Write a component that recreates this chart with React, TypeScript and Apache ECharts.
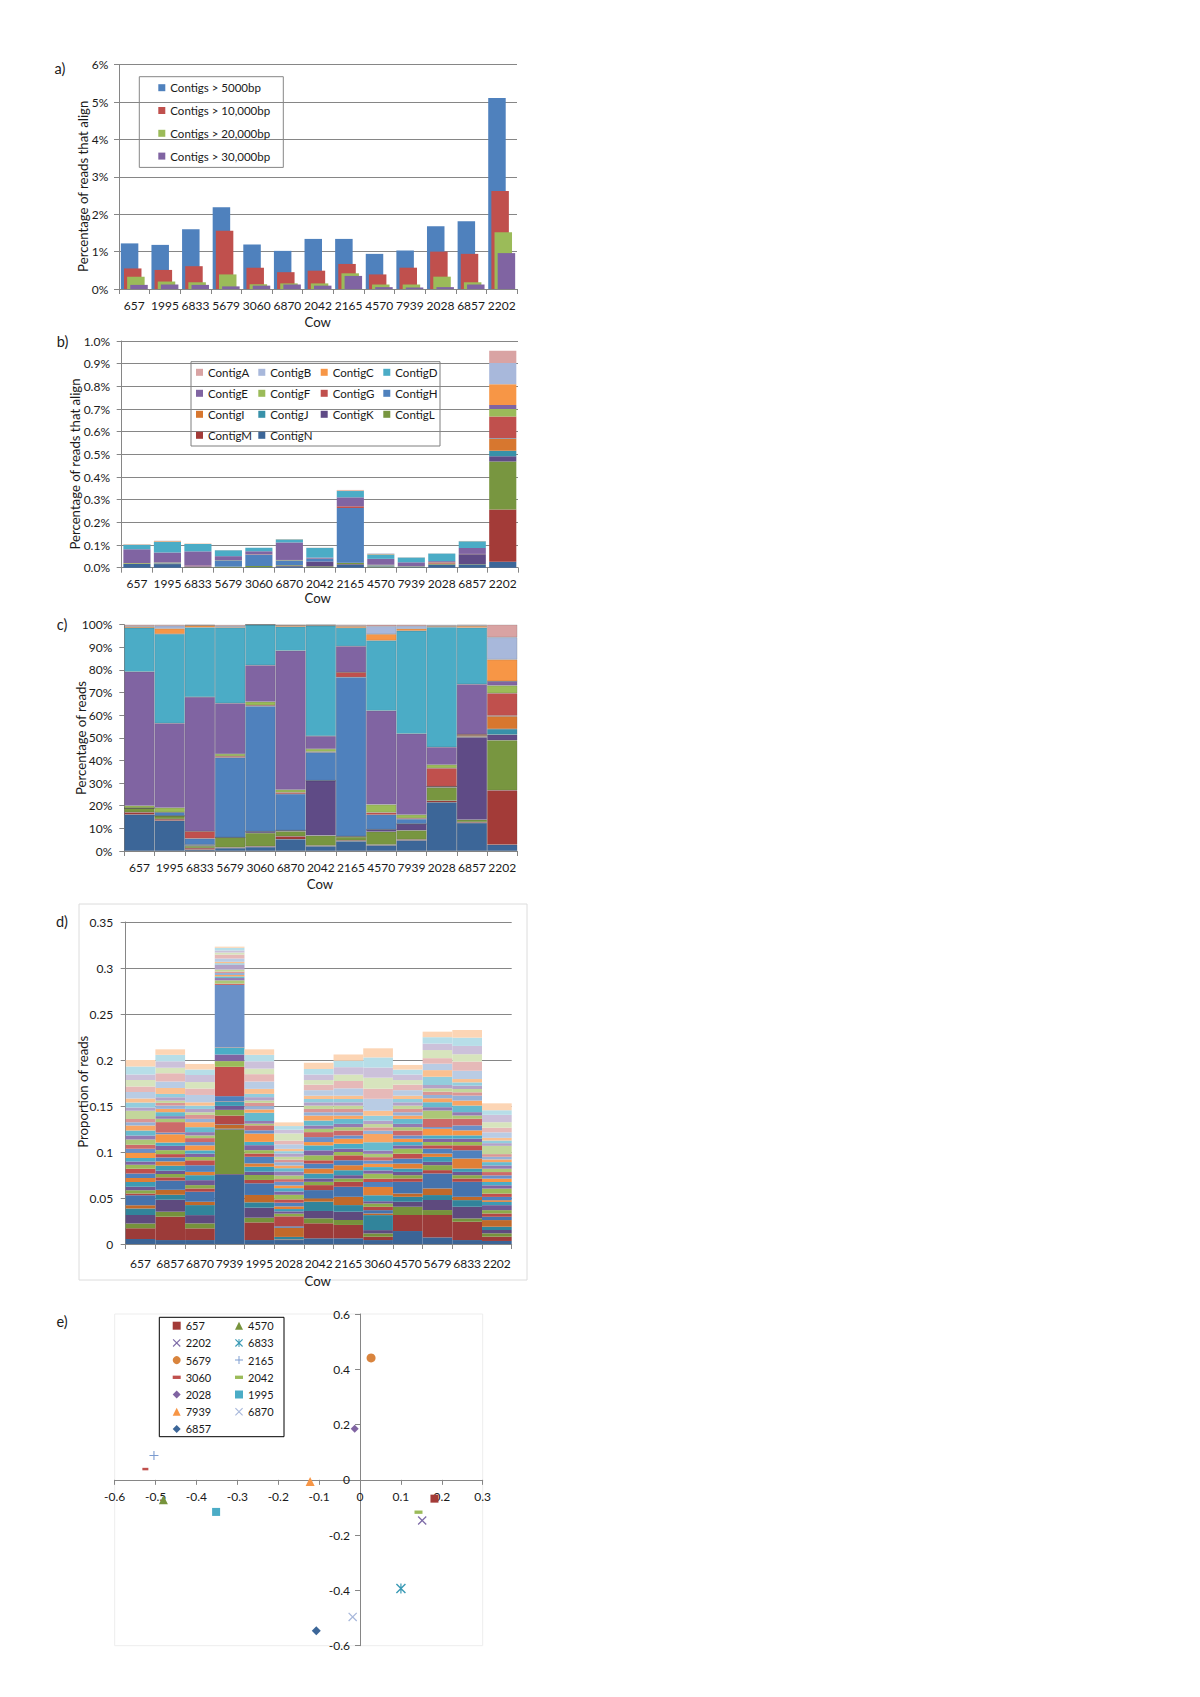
import React, { useEffect, useRef } from 'react';
import * as echarts from 'echarts';

// ---------- categories ----------
const cowsABC = ['657', '1995', '6833', '5679', '3060', '6870', '2042', '2165', '4570', '7939', '2028', '6857', '2202'];
const cowsD = ['657', '6857', '6870', '7939', '1995', '2028', '2042', '2165', '3060', '4570', '5679', '6833', '2202'];

// ---------- panel a (% of reads that align) ----------
const aNames = ['Contigs > 5000bp', 'Contigs > 10,000bp', 'Contigs > 20,000bp', 'Contigs > 30,000bp'];
const contigs5000 = [1.22, 1.18, 1.60, 2.19, 1.19, 1.02, 1.34, 1.34, 0.94, 1.03, 1.68, 1.81, 5.11];
const contigs10000 = [0.55, 0.51, 0.61, 1.56, 0.57, 0.45, 0.49, 0.67, 0.39, 0.57, 1.00, 0.94, 2.62];
const contigs20000 = [0.33, 0.20, 0.18, 0.39, 0.13, 0.15, 0.15, 0.42, 0.12, 0.12, 0.33, 0.18, 1.52];
const contigs30000 = [0.11, 0.12, 0.11, 0.07, 0.09, 0.12, 0.09, 0.35, 0.05, 0.04, 0.05, 0.12, 0.96];

// ---------- panel b totals (% of reads) ----------
const bTotals = [0.103, 0.119, 0.106, 0.078, 0.088, 0.126, 0.088, 0.343, 0.063, 0.046, 0.063, 0.118, 0.957];

// ---------- panel c composition (% of reads per contig) ----------
const contigN = [16.1, 13.4, 0.6, 1.3, 1.8, 5.2, 2.1, 4.3, 2.5, 4.7, 21.5, 12.4, 2.8];
const contigM = [1.0, 0.7, 0.7, 0.3, 0.3, 1.3, 0.3, 0.4, 0.3, 0.4, 0.7, 0.4, 24.0];
const contigL = [1.9, 1.5, 0.9, 4.4, 5.9, 2.2, 4.4, 1.5, 5.7, 4.0, 5.9, 1.0, 22.1];
const contigK = [0, 0, 0.3, 0, 0.6, 0.4, 24.3, 0.3, 1.0, 2.9, 0.4, 36.5, 2.5];
const contigJ = [0, 0, 0.3, 0, 0, 0, 0, 0, 0, 0, 0, 0.3, 2.5];
const contigI = [0, 0, 0, 0, 0, 0, 0, 0, 0, 0, 0, 0.5, 5.6];
const contigH = [0, 1.5, 2.7, 35.3, 55.4, 16.1, 12.5, 70.3, 6.5, 2.1, 0, 0, 0.3];
const contigG = [0, 0, 3.2, 0.6, 0.4, 0.7, 0.3, 2.2, 1.0, 0.4, 8.1, 0.5, 9.9];
const contigF = [1.0, 2.0, 0, 1.0, 1.5, 1.2, 1.2, 0, 3.5, 1.5, 1.5, 0, 3.4];
const contigE = [59.2, 37.3, 59.3, 22.4, 16.2, 61.4, 5.7, 11.5, 41.5, 35.8, 7.8, 22.1, 1.9];
const contigD = [19.4, 39.5, 30.8, 33.4, 17.9, 10.6, 48.7, 8.1, 31.0, 45.5, 53.0, 25.0, 0];
const contigC = [0.5, 2.4, 0.9, 0.3, 0, 0.6, 0.3, 0.7, 2.8, 0.9, 0.4, 0.7, 9.6];
const contigB = [0.3, 1.2, 0, 0.4, 0, 0, 0, 0.3, 3.5, 1.2, 0.3, 0.3, 9.8];
const contigA = [0.6, 0.5, 0.3, 0.5, 0, 0.3, 0.2, 0.4, 0.7, 0.6, 0.3, 0.3, 5.6];

// ---------- panel d (proportion of reads, stacked layers bottom->top) ----------
const d657 = [0.0054, 0.0116, 0.0054, 0.009, 0.0072, 0.0036, 0.0109, 0.0018, 0.0036, 0.0036, 0.0054, 0.0043, 0.0047, 0.0054, 0.0043, 0.0036, 0.0036, 0.0058, 0.0043, 0.0043, 0.0058, 0.0043, 0.0054, 0.0054, 0.0036, 0.0036, 0.009, 0.0036, 0.0054, 0.0043, 0.007, 0.006, 0.007, 0.006, 0.0088, 0.007];
const d6857 = [0.0043, 0.0254, 0.0054, 0.013, 0.0054, 0.0054, 0.01, 0.0036, 0.0036, 0.0036, 0.0054, 0.0047, 0.0043, 0.0036, 0.0043, 0.0047, 0.0036, 0.009, 0.0018, 0.0114, 0.0036, 0.0029, 0.0043, 0.0036, 0.0036, 0.0029, 0.0025, 0.0036, 0.0036, 0.0065, 0.007, 0.009, 0.006, 0.007, 0.007, 0.006];
const d6870 = [0.0043, 0.0127, 0.0054, 0.009, 0.0109, 0.0036, 0.0109, 0.0036, 0.0036, 0.0054, 0.0054, 0.0036, 0.0072, 0.0054, 0.0036, 0.0036, 0.0036, 0.0054, 0.0036, 0.0043, 0.0029, 0.0036, 0.0054, 0.0054, 0.0036, 0.0043, 0.0029, 0.0036, 0.0036, 0.0036, 0.008, 0.007, 0.007, 0.0077, 0.006, 0.006];
const d7939 = [0.0757, 0.0005, 0.0482, 0.0005, 0.0005, 0.0043, 0.0005, 0.0094, 0.0062, 0.0043, 0.0043, 0.0005, 0.0058, 0.0319, 0.0062, 0.0072, 0.0072, 0.0005, 0.0678, 0.0015, 0.0036, 0.0025, 0.0018, 0.0015, 0.0022, 0.0015, 0.0022, 0.0054, 0.0015, 0.0015, 0.0036, 0.0043, 0.0022, 0.0022, 0.0029, 0.0013];
const d1995 = [0.0043, 0.0192, 0.0051, 0.0109, 0.0058, 0.008, 0.0127, 0.0036, 0.0054, 0.0036, 0.0054, 0.0036, 0.0072, 0.0036, 0.0036, 0.0054, 0.0036, 0.009, 0.0036, 0.0054, 0.0018, 0.0029, 0.009, 0.0036, 0.0036, 0.0036, 0.0025, 0.0036, 0.0036, 0.0054, 0.008, 0.008, 0.006, 0.008, 0.007, 0.006];
const d2028 = [0.0043, 0.0003, 0.0003, 0.0003, 0.0025, 0.01, 0.0015, 0.0109, 0.0029, 0.0025, 0.0025, 0.0029, 0.004, 0.0036, 0.005, 0.0036, 0.0036, 0.0029, 0.004, 0.0029, 0.004, 0.0043, 0.0036, 0.0029, 0.0036, 0.0029, 0.003, 0.0036, 0.0025, 0.0025, 0.005, 0.004, 0.0078, 0.004, 0.004, 0.004];
const d2042 = [0.0062, 0.0163, 0.0054, 0.008, 0.0101, 0.0036, 0.009, 0.0054, 0.0036, 0.0036, 0.0054, 0.0054, 0.0054, 0.0036, 0.0054, 0.0054, 0.0054, 0.0036, 0.0054, 0.0054, 0.0036, 0.0036, 0.0054, 0.0054, 0.0036, 0.0036, 0.0036, 0.0036, 0.0036, 0.0036, 0.006, 0.006, 0.005, 0.006, 0.006, 0.0068];
const d2165 = [0.0062, 0.0145, 0.0054, 0.009, 0.0072, 0.009, 0.0109, 0.0054, 0.0036, 0.0036, 0.0054, 0.0054, 0.0054, 0.0054, 0.0036, 0.0036, 0.0054, 0.0054, 0.0036, 0.0054, 0.0036, 0.0036, 0.0054, 0.0036, 0.0036, 0.0036, 0.0036, 0.0036, 0.0036, 0.0036, 0.008, 0.008, 0.007, 0.008, 0.007, 0.0068];
const d3060 = [0.0043, 0.0036, 0.0036, 0.0036, 0.0163, 0.0018, 0.0036, 0.0036, 0.0036, 0.0025, 0.0065, 0.009, 0.0054, 0.0036, 0.0054, 0.0036, 0.0036, 0.0036, 0.0036, 0.0036, 0.0036, 0.0036, 0.009, 0.009, 0.0036, 0.0036, 0.0036, 0.0036, 0.0054, 0.0054, 0.013, 0.011, 0.012, 0.011, 0.011, 0.0099];
const d4570 = [0.0141, 0.0174, 0.009, 0.0054, 0.0054, 0.0036, 0.0127, 0.0036, 0.0036, 0.0036, 0.0036, 0.0054, 0.0054, 0.0054, 0.0054, 0.0036, 0.0036, 0.0036, 0.0036, 0.0054, 0.0036, 0.0036, 0.0054, 0.0036, 0.0036, 0.0036, 0.0036, 0.0036, 0.0036, 0.0036, 0.006, 0.006, 0.005, 0.006, 0.0054, 0.005];
const d5679 = [0.0072, 0.0243, 0.0054, 0.0109, 0.0054, 0.0072, 0.0163, 0.0036, 0.0054, 0.0036, 0.0054, 0.0036, 0.0054, 0.0036, 0.0036, 0.0036, 0.0036, 0.0072, 0.0018, 0.009, 0.009, 0.0036, 0.0054, 0.0043, 0.0036, 0.0036, 0.0036, 0.0036, 0.009, 0.0072, 0.007, 0.006, 0.0088, 0.007, 0.007, 0.006];
const d6833 = [0.0043, 0.0199, 0.0036, 0.0127, 0.0072, 0.0036, 0.0163, 0.0036, 0.0036, 0.0036, 0.0036, 0.0109, 0.009, 0.0054, 0.0036, 0.0036, 0.0036, 0.0054, 0.0054, 0.0072, 0.0036, 0.0036, 0.0072, 0.0054, 0.0054, 0.0036, 0.0036, 0.0036, 0.0036, 0.0036, 0.009, 0.01, 0.008, 0.009, 0.009, 0.0083];
const d2202 = [0.0033, 0.0047, 0.0036, 0.0036, 0.0036, 0.0072, 0.0036, 0.0036, 0.0036, 0.0054, 0.0036, 0.0018, 0.0036, 0.0036, 0.0054, 0.0036, 0.0036, 0.0036, 0.0036, 0.0036, 0.0036, 0.0036, 0.0036, 0.0029, 0.0029, 0.0029, 0.009, 0.0029, 0.0029, 0.0029, 0.006, 0.005, 0.006, 0.008, 0.005, 0.0075];

// ---------- panel e (ordination) ----------
const eCows = ['657', '4570', '2202', '6833', '5679', '2165', '3060', '2042', '2028', '1995', '7939', '6870', '6857'];
const eX = [0.182, -0.481, 0.152, 0.100, 0.027, -0.504, -0.525, 0.143, -0.013, -0.352, -0.122, -0.018, -0.107];
const eY = [-0.068, -0.072, -0.147, -0.393, 0.441, 0.088, 0.039, -0.117, 0.185, -0.116, -0.006, -0.496, -0.546];

// ---------- styles ----------
const FONT = 'Lato, "Noto Sans", sans-serif';
const AXIS = '#868686';
const TXT = '#1a1a1a';
const TICK_FS = 12;
const TITLE_FS = 13.2;
const aColors = ['#4F81BD', '#C0504D', '#9BBB59', '#8064A2'];
const contigNames = ['ContigN', 'ContigM', 'ContigL', 'ContigK', 'ContigJ', 'ContigI', 'ContigH', 'ContigG', 'ContigF', 'ContigE', 'ContigD', 'ContigC', 'ContigB', 'ContigA'];
const contigColors = ['#3C6698', '#A33B38', '#789640', '#5F4B86', '#3891A9', '#D7772F', '#4F81BD', '#C0504D', '#9BBB59', '#8064A2', '#4BACC6', '#F79646', '#A8B8DB', '#D9A3A3'];
const dPalette = [
  '#3B6496', '#9C3B39', '#76923C', '#5E4A7E', '#31849B', '#C0692A',
  '#4573AD', '#B24846', '#8AAA4B', '#705894', '#3E9BB4', '#E07F36',
  '#4F81BD', '#C0504D', '#9BBB59', '#8064A2', '#4BACC6', '#F79646',
  '#6A90C8', '#CC6B69', '#ACC777', '#937BB2', '#67BACE', '#F8A564',
  '#95B1D6', '#D99694', '#C3D69B', '#B3A2C7', '#93CDDD', '#FAC090',
  '#B9CCE4', '#E6B9B8', '#D7E4BD', '#CCC1DA', '#B7DEE8', '#FCD5B5',
];
const X_PATH = 'path://M0,1 L1,0 L10,9 L9,10 Z M9,0 L10,1 L1,10 L0,9 Z';
const PLUS_PATH = 'path://M4.4,0 L5.6,0 L5.6,10 L4.4,10 Z M0,4.4 L10,4.4 L10,5.6 L0,5.6 Z';
const STAR_PATH = 'path://M0,1 L1,0 L10,9 L9,10 Z M9,0 L10,1 L1,10 L0,9 Z M4.4,0 L5.6,0 L5.6,10 L4.4,10 Z';
const DASH_PATH = 'path://M0,0 L12,0 L12,5 L0,5 Z';
const eStyle: Record<string, { symbol: string; size: number; color: string }> = {
  '657': { symbol: 'rect', size: 8, color: '#A33B38' },
  '4570': { symbol: 'triangle', size: 9, color: '#77933C' },
  '2202': { symbol: X_PATH, size: 9, color: '#7E6CA8' },
  '6833': { symbol: STAR_PATH, size: 10, color: '#3A9AB5' },
  '5679': { symbol: 'circle', size: 9, color: '#D9843D' },
  '2165': { symbol: PLUS_PATH, size: 9, color: '#7B9BD0' },
  '3060': { symbol: DASH_PATH, size: 6, color: '#C0504D' },
  '2042': { symbol: DASH_PATH, size: 8, color: '#9BBB59' },
  '2028': { symbol: 'diamond', size: 8, color: '#8064A2' },
  '1995': { symbol: 'rect', size: 8, color: '#4BACC6' },
  '7939': { symbol: 'triangle', size: 9, color: '#F79646' },
  '6870': { symbol: X_PATH, size: 9, color: '#A8B8DB' },
  '6857': { symbol: 'diamond', size: 9, color: '#3C6698' },
};

// panel e plot box and axis ranges
const E_LEFT = 114.7, E_TOP = 1314, E_W = 368, E_H = 331.7;
const E_XMIN = -0.6, E_XMAX = 0.3, E_YMIN = -0.6, E_YMAX = 0.6;

function catAxis(gridIndex: number, data: string[], margin: number) {
  return {
    type: 'category', gridIndex, data,
    axisLine: { show: true, lineStyle: { color: AXIS, width: 1 } },
    axisTick: { show: true, length: 5, lineStyle: { color: AXIS } },
    axisLabel: { interval: 0, color: TXT, fontFamily: FONT, fontSize: TICK_FS, margin },
    splitLine: { show: false },
  };
}
function valAxis(gridIndex: number, min: number, max: number, interval: number, formatter: any, margin: number, grid: boolean) {
  return {
    type: 'value', gridIndex, min, max, interval,
    axisLine: { show: true, lineStyle: { color: AXIS, width: 1 } },
    axisTick: { show: true, length: 5, lineStyle: { color: AXIS } },
    axisLabel: { color: TXT, fontFamily: FONT, fontSize: TICK_FS, margin, formatter },
    splitLine: { show: grid, lineStyle: { color: AXIS, width: 1 } },
  };
}
function txt(text: string, x: number, y: number, size: number, rotate = false) {
  return {
    type: 'text', x, y, rotation: rotate ? Math.PI / 2 : 0,
    style: { text, fill: TXT, fontFamily: FONT, fontSize: size, align: 'center', verticalAlign: 'middle' },
  };
}
function box(x: number, y: number, w: number, h: number, stroke: string) {
  return { type: 'rect', shape: { x, y, width: w, height: h }, style: { fill: 'none', stroke, lineWidth: 1 } };
}

function buildOption() {
  const comp = [contigN, contigM, contigL, contigK, contigJ, contigI, contigH, contigG, contigF, contigE, contigD, contigC, contigB, contigA];
  const dByCow = [d657, d6857, d6870, d7939, d1995, d2028, d2042, d2165, d3060, d4570, d5679, d6833, d2202];
  const series: any[] = [];

  [contigs5000, contigs10000, contigs20000, contigs30000].forEach((data, k) => {
    series.push({
      type: 'bar', name: aNames[k], xAxisIndex: 0, yAxisIndex: 0, data,
      barWidth: 17.5, barGap: '-82%', itemStyle: { color: aColors[k] },
    });
  });
  comp.forEach((arr, k) => {
    series.push({
      type: 'bar', name: contigNames[k], xAxisIndex: 1, yAxisIndex: 1, stack: 'b',
      data: arr.map((p, i) => +(bTotals[i] * p / 100).toFixed(6)),
      barCategoryGap: '11%', itemStyle: { color: contigColors[k] },
    });
  });
  comp.forEach((arr, k) => {
    series.push({
      type: 'bar', name: contigNames[k], xAxisIndex: 2, yAxisIndex: 2, stack: 'c',
      data: arr, barCategoryGap: '0%',
      itemStyle: { color: contigColors[k], borderColor: 'rgba(70,70,70,0.35)', borderWidth: 0.5 },
    });
  });
  dPalette.forEach((color, s) => {
    series.push({
      type: 'bar', name: 'layer' + s, xAxisIndex: 3, yAxisIndex: 3, stack: 'd',
      data: dByCow.map((row) => row[s]), barCategoryGap: '0%',
      itemStyle: { color },
    });
  });
  eCows.forEach((cow, i) => {
    const st = eStyle[cow];
    series.push({
      type: 'scatter', name: cow, xAxisIndex: 4, yAxisIndex: 4,
      data: [[eX[i], eY[i]]], symbol: st.symbol, symbolSize: st.size, symbolKeepAspect: true,
      itemStyle: { color: st.color, opacity: 1 },
    });
  });

  const legendText = (size: number, lh: number) => ({ fontFamily: FONT, fontSize: size, color: TXT, lineHeight: lh });
  const bCols = [
    ['ContigA', 'ContigE', 'ContigI', 'ContigM'],
    ['ContigB', 'ContigF', 'ContigJ', 'ContigN'],
    ['ContigC', 'ContigG', 'ContigK'],
    ['ContigD', 'ContigH', 'ContigL'],
  ];
  const bLefts = [196, 258.3, 320.7, 383.3];
  const legends: any[] = [
    {
      left: 158.3, top: 81.2, orient: 'vertical', icon: 'rect', itemWidth: 7, itemHeight: 7, itemGap: 9.8,
      padding: 0, selectedMode: false, textStyle: legendText(11.5, 13), data: aNames,
    },
    ...bCols.map((data, j) => ({
      left: bLefts[j], top: 365.8, orient: 'vertical', icon: 'rect', itemWidth: 7, itemHeight: 7, itemGap: 8,
      padding: 0, selectedMode: false, textStyle: legendText(11.5, 13), data,
    })),
    {
      left: 172.7, top: 1319.7, orient: 'vertical', itemWidth: 8, itemHeight: 8, itemGap: 5.2,
      padding: 0, selectedMode: false, textStyle: legendText(11, 12),
      data: ['657', '2202', '5679', '3060', '2028', '7939', '6857'],
    },
    {
      left: 235, top: 1319.7, orient: 'vertical', itemWidth: 8, itemHeight: 8, itemGap: 5.2,
      padding: 0, selectedMode: false, textStyle: legendText(11, 12),
      data: ['4570', '6833', '2165', '2042', '1995', '6870'],
    },
  ];

  // panel e axes cross at the origin: shift each axis to the zero position
  const zeroY = E_TOP + (E_YMAX / (E_YMAX - E_YMIN)) * E_H;
  const zeroX = E_LEFT + ((0 - E_XMIN) / (E_XMAX - E_XMIN)) * E_W;
  const eAxisCommon = {
    axisTick: { show: true, length: 5, lineStyle: { color: AXIS } },
    splitLine: { show: false },
  };

  return {
    animation: false,
    backgroundColor: '#ffffff',
    textStyle: { fontFamily: FONT },
    grid: [
      { left: 119, top: 64.7, width: 398, height: 224.3, outerBoundsMode: 'none' },
      { left: 121.7, top: 341, width: 396.3, height: 226.7, outerBoundsMode: 'none' },
      { left: 124.3, top: 624.7, width: 393, height: 226.3, outerBoundsMode: 'none' },
      { left: 125.7, top: 922, width: 386, height: 322, outerBoundsMode: 'none' },
      { left: E_LEFT, top: E_TOP, width: E_W, height: E_H, show: true, borderColor: '#ededed', borderWidth: 1, outerBoundsMode: 'none' },
    ],
    xAxis: [
      catAxis(0, cowsABC, 10.5),
      catAxis(1, cowsABC, 10),
      catAxis(2, cowsABC, 10.5),
      catAxis(3, cowsD, 13),
      {
        type: 'value', gridIndex: 4, min: E_XMIN, max: E_XMAX, interval: 0.1, position: 'bottom',
        offset: -(E_TOP + E_H - zeroY), ...eAxisCommon,
        axisLine: { show: true, onZero: false, lineStyle: { color: AXIS, width: 1 } },
        axisLabel: { color: TXT, fontFamily: FONT, fontSize: TICK_FS, margin: 10.5 },
      },
    ],
    yAxis: [
      valAxis(0, 0, 6, 1, '{value}%', 10.7, true),
      valAxis(1, 0, 1, 0.1, (v: number) => v.toFixed(1) + '%', 11.7, true),
      valAxis(2, 0, 100, 10, '{value}%', 12, false),
      valAxis(3, 0, 0.35, 0.05, undefined, 12.4, true),
      {
        type: 'value', gridIndex: 4, min: E_YMIN, max: E_YMAX, interval: 0.2, position: 'left',
        offset: -(zeroX - E_LEFT), ...eAxisCommon,
        axisLine: { show: true, onZero: false, lineStyle: { color: AXIS, width: 1 } },
        axisLabel: { color: TXT, fontFamily: FONT, fontSize: TICK_FS, margin: 10 },
      },
    ],
    legend: legends,
    series,
    graphic: [
      box(139.3, 76.7, 144, 90.7, '#868686'),
      box(191, 361.7, 249, 84.3, '#7f7f7f'),
      box(79, 904, 448, 376, '#dcdcdc'),
      box(159.3, 1317.3, 124.7, 119.4, '#000000'),
      txt('a)', 60, 68, 14.5),
      txt('b)', 62.5, 341, 14.5),
      txt('c)', 62, 624, 14.5),
      txt('d)', 62, 921, 14.5),
      txt('e)', 62, 1321, 14.5),
      txt('Percentage of reads that align', 83, 186.3, TITLE_FS, true),
      txt('Percentage of reads that align', 75, 464, TITLE_FS, true),
      txt('Percentage of reads', 80.7, 738, TITLE_FS, true),
      txt('Proportion of reads', 83, 1091.7, TITLE_FS, true),
      txt('Cow', 317.7, 322, TITLE_FS),
      txt('Cow', 317.7, 598.3, TITLE_FS),
      txt('Cow', 320, 884, TITLE_FS),
      txt('Cow', 317.7, 1281, TITLE_FS),
    ],
  };
}

export default function App() {
  const ref = useRef<HTMLDivElement>(null);
  useEffect(() => {
    document.body.style.margin = '0';
    const chart = echarts.init(ref.current as HTMLDivElement, null, { renderer: 'svg' });
    chart.setOption(buildOption() as any);
    return () => chart.dispose();
  }, []);
  return <div ref={ref} style={{ position: 'absolute', left: 0, top: 0, width: 1200, height: 1697 }} />;
}
